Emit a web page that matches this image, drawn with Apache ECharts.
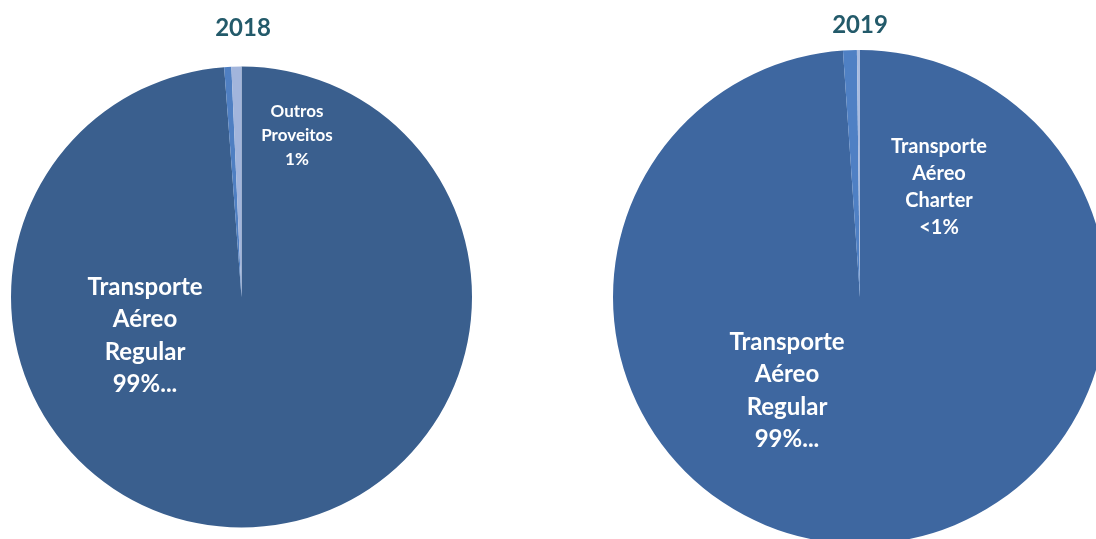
<!DOCTYPE html>
<html>
<head>
<meta charset="utf-8">
<script src="https://cdn.jsdelivr.net/npm/echarts@6/dist/echarts.min.js"></script>
<style>
html,body{margin:0;padding:0;background:#fff;}
#c{width:1096px;height:539px;}
</style>
</head>
<body>
<div id="c"></div>
<script>
const categories = ['Transporte Aéreo Regular', 'Transporte Aéreo Charter', 'Outros Proveitos'];
const years = ['2018', '2019'];
const values2018 = [98.8, 0.5, 0.7];
const values2019 = [98.9, 0.9, 0.2];
const labels2018 = ['Transporte\nAéreo\nRegular\n99%...', '', 'Outros\nProveitos\n1%'];
const labels2019 = ['Transporte\nAéreo\nRegular\n99%...', 'Transporte\nAéreo\nCharter\n<1%', ''];

const colors2018 = ['#3a5f8e', '#4f7fc2', '#a2b5dc'];
const colors2019 = ['#3e67a0', '#4f80c4', '#a9bce0'];

const FONT = 'Lato, "Open Sans", sans-serif';

function buildData(vals, labs, cols, smallSize, smallLH) {
  return vals.map((v, i) => ({
    name: categories[i],
    value: v,
    itemStyle: { color: cols[i] },
    label: {
      show: labs[i] !== '',
      formatter: labs[i],
      fontSize: i === 0 ? 24 : smallSize,
      lineHeight: i === 0 ? 32.5 : smallLH
    }
  }));
}

// label anchor positions (label centers)
const labelPos = {
  '0-0': [145, 336], '0-2': [297, 136],
  '1-0': [787, 391], '1-1': [939, 187]
};

const chart = echarts.init(document.getElementById('c'));
chart.setOption({
  animation: false,
  title: [
    { text: years[0], left: 238, top: 11, textAlign: 'center',
      textStyle: { fontFamily: FONT, fontSize: 24, fontWeight: 'bold', color: '#235a6a' } },
    { text: years[1], left: 855, top: 8, textAlign: 'center',
      textStyle: { fontFamily: FONT, fontSize: 24, fontWeight: 'bold', color: '#235a6a' } }
  ],
  series: [
    {
      type: 'pie', center: [241.5, 297], radius: 230.5, startAngle: 90, clockwise: true,
      itemStyle: { borderWidth: 0 },
      emphasis: { disabled: true },
      label: { position: 'inside', color: '#fff', fontFamily: FONT, fontWeight: 'bold' },
      labelLine: { show: false },
      labelLayout: function (p) {
        const k = '0-' + p.dataIndex;
        if (labelPos[k]) return { x: labelPos[k][0], y: labelPos[k][1] };
        return {};
      },
      data: buildData(values2018, labels2018, colors2018, 17, 24)
    },
    {
      type: 'pie', center: [860, 297], radius: 247, startAngle: 90, clockwise: true,
      itemStyle: { borderWidth: 0 },
      emphasis: { disabled: true },
      label: { position: 'inside', color: '#fff', fontFamily: FONT, fontWeight: 'bold' },
      labelLine: { show: false },
      labelLayout: function (p) {
        const k = '1-' + p.dataIndex;
        if (labelPos[k]) return { x: labelPos[k][0], y: labelPos[k][1] };
        return {};
      },
      data: buildData(values2019, labels2019, colors2019, 20, 27)
    }
  ]
});
</script>
</body>
</html>
